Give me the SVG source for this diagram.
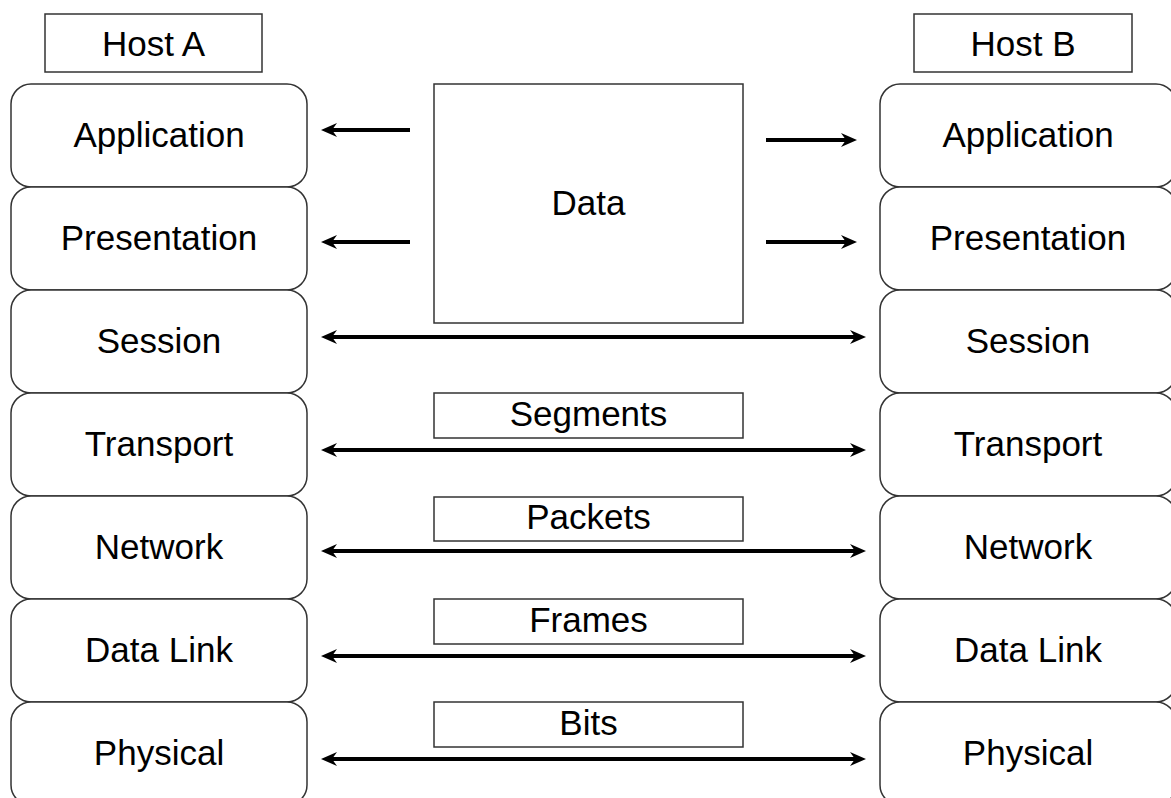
<svg xmlns="http://www.w3.org/2000/svg" width="1171" height="798" viewBox="0 0 1171 798">
<style>
.box{fill:#fff;stroke:#333;stroke-width:1.5}
.lbl{font-family:"Liberation Sans",Arial,sans-serif;font-size:35px;fill:#000;text-anchor:middle}
.arr{stroke:#000;stroke-width:4;fill:none}
</style>
<defs>
<marker id="ah" markerUnits="userSpaceOnUse" viewBox="-18 -9 20 18" markerWidth="20" markerHeight="18" refX="-8" refY="0" orient="auto-start-reverse">
<path d="M0,0 L-16,-7 L-11,0 L-16,7 Z" fill="#000"/>
</marker>
</defs>
<rect width="1171" height="798" fill="#fff"/>
<g id="hostA"><rect class="box" x="45" y="14" width="217" height="58"/><text class="lbl" x="153.5" y="56">Host A</text></g>
<g id="hostB"><rect class="box" x="914" y="14" width="218" height="58"/><text class="lbl" x="1023" y="56">Host B</text></g>
<g id="a-app"><rect class="box" x="11" y="84" width="296" height="103" rx="20"/><text class="lbl" x="159" y="147">Application</text></g>
<g id="a-pres"><rect class="box" x="11" y="187" width="296" height="103" rx="20"/><text class="lbl" x="159" y="250">Presentation</text></g>
<g id="a-sess"><rect class="box" x="11" y="290" width="296" height="103" rx="20"/><text class="lbl" x="159" y="353">Session</text></g>
<g id="a-trans"><rect class="box" x="11" y="393" width="296" height="103" rx="20"/><text class="lbl" x="159" y="456">Transport</text></g>
<g id="a-net"><rect class="box" x="11" y="496" width="296" height="103" rx="20"/><text class="lbl" x="159" y="559">Network</text></g>
<g id="a-dl"><rect class="box" x="11" y="599" width="296" height="103" rx="20"/><text class="lbl" x="159" y="662">Data Link</text></g>
<g id="a-phys"><rect class="box" x="11" y="702" width="296" height="103" rx="20"/><text class="lbl" x="159" y="765">Physical</text></g>
<g id="b-app"><rect class="box" x="880" y="84" width="296" height="103" rx="20"/><text class="lbl" x="1028" y="147">Application</text></g>
<g id="b-pres"><rect class="box" x="880" y="187" width="296" height="103" rx="20"/><text class="lbl" x="1028" y="250">Presentation</text></g>
<g id="b-sess"><rect class="box" x="880" y="290" width="296" height="103" rx="20"/><text class="lbl" x="1028" y="353">Session</text></g>
<g id="b-trans"><rect class="box" x="880" y="393" width="296" height="103" rx="20"/><text class="lbl" x="1028" y="456">Transport</text></g>
<g id="b-net"><rect class="box" x="880" y="496" width="296" height="103" rx="20"/><text class="lbl" x="1028" y="559">Network</text></g>
<g id="b-dl"><rect class="box" x="880" y="599" width="296" height="103" rx="20"/><text class="lbl" x="1028" y="662">Data Link</text></g>
<g id="b-phys"><rect class="box" x="880" y="702" width="296" height="103" rx="20"/><text class="lbl" x="1028" y="765">Physical</text></g>
<g id="data"><rect class="box" x="434" y="84" width="309" height="239"/><text class="lbl" x="588.5" y="215">Data</text></g>
<g id="segments"><rect class="box" x="434" y="393" width="309" height="45"/><text class="lbl" x="588.5" y="426">Segments</text></g>
<g id="packets"><rect class="box" x="434" y="497" width="309" height="44"/><text class="lbl" x="588.5" y="529">Packets</text></g>
<g id="frames"><rect class="box" x="434" y="599" width="309" height="45"/><text class="lbl" x="588.5" y="632">Frames</text></g>
<g id="bits"><rect class="box" x="434" y="702" width="309" height="45"/><text class="lbl" x="588.5" y="735">Bits</text></g>
<g id="connectors">
<line class="arr" x1="410" y1="130" x2="329" y2="130" marker-end="url(#ah)"/>
<line class="arr" x1="766" y1="140" x2="849" y2="140" marker-end="url(#ah)"/>
<line class="arr" x1="410" y1="242" x2="329" y2="242" marker-end="url(#ah)"/>
<line class="arr" x1="766" y1="242" x2="849" y2="242" marker-end="url(#ah)"/>
<line class="arr" x1="329" y1="337" x2="858" y2="337" marker-start="url(#ah)" marker-end="url(#ah)"/>
<line class="arr" x1="329" y1="450" x2="858" y2="450" marker-start="url(#ah)" marker-end="url(#ah)"/>
<line class="arr" x1="329" y1="551" x2="858" y2="551" marker-start="url(#ah)" marker-end="url(#ah)"/>
<line class="arr" x1="329" y1="656" x2="858" y2="656" marker-start="url(#ah)" marker-end="url(#ah)"/>
<line class="arr" x1="329" y1="759" x2="858" y2="759" marker-start="url(#ah)" marker-end="url(#ah)"/>
</g>
</svg>
